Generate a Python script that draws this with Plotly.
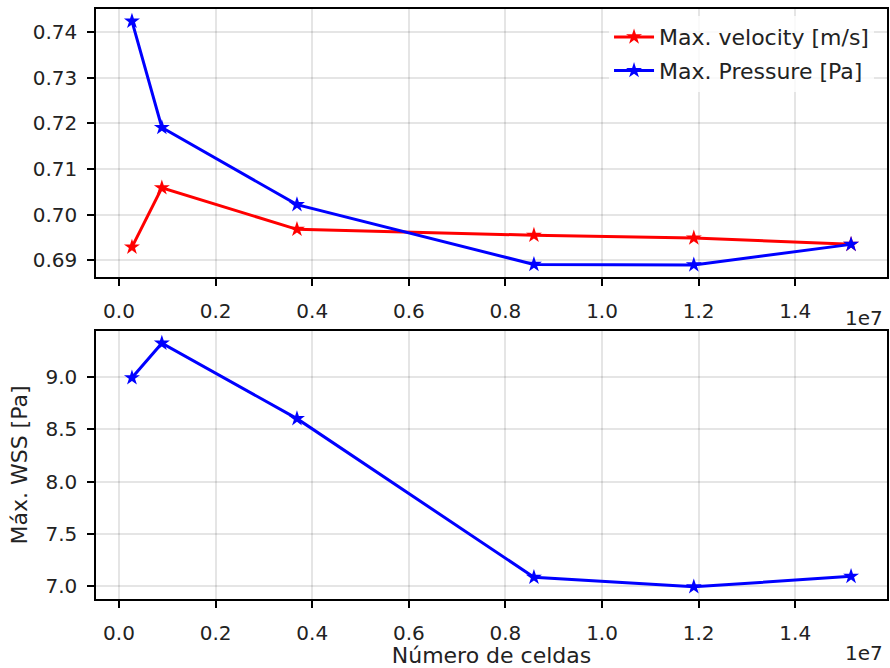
import plotly.graph_objects as go
from plotly.subplots import make_subplots

# Mesh-independence study: number of cells vs. maximum quantities
cells = [268000, 887000, 3684000, 8590000, 11900000, 15155000]
max_velocity = [0.6929, 0.7059, 0.6968, 0.6955, 0.6949, 0.6935]
max_pressure = [0.7424, 0.7191, 0.7022, 0.6891, 0.6890, 0.6935]
max_wss = [8.99, 9.32, 8.60, 7.086, 6.995, 7.095]

x_ticks = [0, 0.2e7, 0.4e7, 0.6e7, 0.8e7, 1.0e7, 1.2e7, 1.4e7]
x_tick_text = ["0.0", "0.2", "0.4", "0.6", "0.8", "1.0", "1.2", "1.4"]
top_y_ticks = [0.69, 0.70, 0.71, 0.72, 0.73, 0.74]
bottom_y_ticks = [7.0, 7.5, 8.0, 8.5, 9.0]

FONT = "DejaVu Sans"
TICK_FS = 20
LABEL_FS = 22
TXT = "#222222"
GRID = "rgba(0,0,0,0.10)"


def padded(values, frac=0.05):
    lo, hi = min(values), max(values)
    pad = (hi - lo) * frac
    return [lo - pad, hi + pad]


TOP_DOM = [0.5456, 1.0]
BOT_DOM = [0.0, 0.4542]

fig = make_subplots(rows=2, cols=1)
fig.update_layout(yaxis=dict(domain=TOP_DOM), yaxis2=dict(domain=BOT_DOM))

marker = dict(symbol="star", size=12)
fig.add_trace(go.Scatter(x=cells, y=max_velocity, mode="lines+markers",
                         name="Max. velocity [m/s]", legendgroup="v",
                         line=dict(color="#ff0000", width=3),
                         marker=dict(color="#ff0000", **marker)), row=1, col=1)
fig.add_trace(go.Scatter(x=cells, y=max_pressure, mode="lines+markers",
                         name="Max. Pressure [Pa]", legendgroup="p",
                         line=dict(color="#0000ff", width=3),
                         marker=dict(color="#0000ff", **marker)), row=1, col=1)
fig.add_trace(go.Scatter(x=cells, y=max_wss, mode="lines+markers",
                         showlegend=False,
                         line=dict(color="#0000ff", width=3),
                         marker=dict(color="#0000ff", **marker)), row=2, col=1)

axis_common = dict(showline=True, linecolor="#000000", linewidth=1.5, mirror=True,
                   ticks="outside", ticklen=7, tickwidth=1.5, tickcolor="#000000",
                   showgrid=True, gridcolor=GRID, gridwidth=1.5, zeroline=False,
                   tickfont=dict(family=FONT, size=TICK_FS, color=TXT))

fig.update_xaxes(**axis_common, range=padded(cells), tickvals=x_ticks,
                 ticktext=x_tick_text, ticklabelstandoff=8)
fig.update_xaxes(title=dict(text="Número de celdas",
                            font=dict(family=FONT, size=LABEL_FS, color=TXT),
                            standoff=6), row=2, col=1)
fig.update_yaxes(**axis_common, ticklabelstandoff=6)
fig.update_yaxes(range=padded(max_velocity + max_pressure), tickvals=top_y_ticks,
                 tickformat=".2f", row=1, col=1)
fig.update_yaxes(range=padded(max_wss), tickvals=bottom_y_ticks, tickformat=".1f",
                 title=dict(text="Máx. WSS [Pa]",
                            font=dict(family=FONT, size=LABEL_FS, color=TXT),
                            standoff=12), row=2, col=1)

# scale-offset labels for the x axes
for dom, shift in ((TOP_DOM, -41), (BOT_DOM, -54)):
    fig.add_annotation(text="1e7", xref="paper", yref="paper", x=1.0, y=dom[0],
                       xanchor="right", yanchor="middle", xshift=-2, yshift=shift,
                       showarrow=False, font=dict(family=FONT, size=TICK_FS, color=TXT))

fig.update_layout(
    width=890, height=668,
    margin=dict(l=96, r=1, t=8.5, b=68.6),
    paper_bgcolor="white", plot_bgcolor="white",
    font=dict(family=FONT, size=TICK_FS, color=TXT),
    legend=dict(x=0.9836, y=0.988, xanchor="right", yanchor="top",
                bgcolor="rgba(255,255,255,0.8)", borderwidth=0,
                font=dict(family=FONT, size=LABEL_FS, color=TXT), itemwidth=40,
                traceorder="grouped", tracegroupgap=2),
)

fig.write_html("out.html")
